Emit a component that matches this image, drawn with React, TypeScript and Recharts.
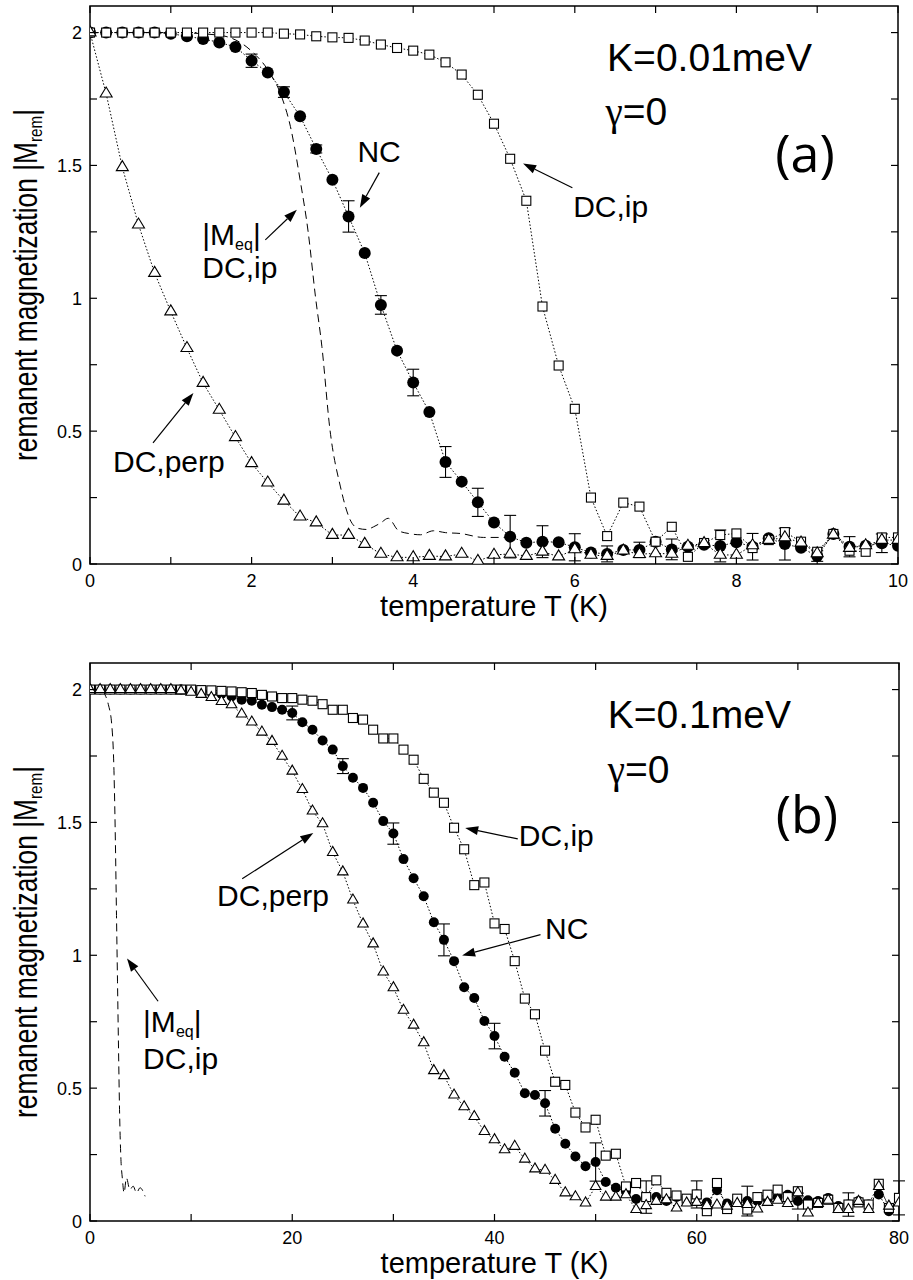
import React from 'react';
import {
  LineChart,
  Line,
  XAxis,
  YAxis,
  ErrorBar,
  ReferenceArea,
  ReferenceLine,
  ReferenceDot,
} from 'recharts';

const FONT = '"Liberation Sans", Arial, Helvetica, sans-serif';

// ---------- panel (a): K = 0.01 meV, gamma = 0 ----------
const tA = [0, 0.2, 0.4, 0.6, 0.8, 1, 1.2, 1.4, 1.6, 1.8, 2, 2.2, 2.4, 2.6, 2.8, 3, 3.2, 3.4, 3.6, 3.8, 4, 4.2, 4.4, 4.6, 4.8, 5, 5.2, 5.4, 5.6, 5.8, 6, 6.2, 6.4, 6.6, 6.8, 7, 7.2, 7.4, 7.6, 7.8, 8, 8.2, 8.4, 8.6, 8.8, 9, 9.2, 9.4, 9.6, 9.8, 10];
const ncA = [2.0, 2.0, 2.0, 2.0, 2.0, 1.996, 1.986, 1.976, 1.963, 1.946, 1.894, 1.85, 1.776, 1.685, 1.562, 1.446, 1.308, 1.17, 0.975, 0.803, 0.683, 0.572, 0.384, 0.31, 0.232, 0.156, 0.103, 0.08, 0.084, 0.082, 0.063, 0.043, 0.038, 0.053, 0.053, 0.084, 0.055, 0.065, 0.072, 0.068, 0.082, 0.065, 0.097, 0.075, 0.061, 0.03, 0.113, 0.065, 0.069, 0.078, 0.069];
const ipA = [2.0, 2.0, 2.0, 2.0, 2.0, 2.0, 2.0, 2.0, 2.0, 2.0, 2.0, 2.0, 1.996, 1.993, 1.986, 1.982, 1.98, 1.97, 1.955, 1.942, 1.932, 1.917, 1.888, 1.842, 1.766, 1.657, 1.525, 1.367, 0.969, 0.747, 0.584, 0.25, 0.105, 0.231, 0.216, 0.084, 0.14, 0.027, 0.079, 0.109, 0.115, 0.06, 0.09, 0.12, 0.084, 0.046, 0.113, 0.05, 0.046, 0.1, 0.1];
const perpA = [2.0, 1.77, 1.493, 1.277, 1.095, 0.95, 0.812, 0.681, 0.58, 0.477, 0.379, 0.306, 0.238, 0.178, 0.156, 0.109, 0.109, 0.075, 0.038, 0.025, 0.025, 0.03, 0.028, 0.038, 0.011, 0.034, 0.038, 0.03, 0.046, 0.028, 0.055, 0.034, 0.03, 0.05, 0.037, 0.04, 0.038, 0.068, 0.078, 0.034, 0.034, 0.07, 0.09, 0.1, 0.08, 0.04, 0.11, 0.06, 0.07, 0.09, 0.09];
const ncErrAtA = [2, 2.4, 2.8, 3.2, 3.6, 4, 4.4, 4.8, 5.2, 5.6, 6, 6.4, 6.8, 7.2, 7.8, 8.2, 8.6, 9, 9.4, 9.8];
const ncErrA = [0.025, 0.02, 0.015, 0.059, 0.035, 0.05, 0.058, 0.053, 0.08, 0.06, 0.051, 0.03, 0.029, 0.039, 0.06, 0.05, 0.06, 0.02, 0.038, 0.035];
// |M_eq| for DC,ip (dashed)
const eqTA = [0, 1, 1.6, 2, 2.2, 2.37, 2.48, 2.6, 2.7, 2.79, 2.87, 2.97, 3.1, 3.22, 3.32, 3.42, 3.51, 3.6, 3.69, 3.82, 3.94, 4.09, 4.25, 4.4, 4.58, 4.87, 5.2];
const eqMA = [2.0, 2.0, 1.99, 1.93, 1.86, 1.76, 1.647, 1.446, 1.25, 1.007, 0.818, 0.505, 0.29, 0.166, 0.134, 0.13, 0.14, 0.155, 0.172, 0.125, 0.115, 0.11, 0.125, 0.118, 0.115, 0.1, 0.1];

// ---------- panel (b): K = 0.1 meV, gamma = 0 ----------
const tB = [0, 1, 2, 3, 4, 5, 6, 7, 8, 9, 10, 11, 12, 13, 14, 15, 16, 17, 18, 19, 20, 21, 22, 23, 24, 25, 26, 27, 28, 29, 30, 31, 32, 33, 34, 35, 36, 37, 38, 39, 40, 41, 42, 43, 44, 45, 46, 47, 48, 49, 50, 51, 52, 53, 54, 55, 56, 57, 58, 59, 60, 61, 62, 63, 64, 65, 66, 67, 68, 69, 70, 71, 72, 73, 74, 75, 76, 77, 78, 79, 80];
const ncB = [2.0, 2.0, 2.0, 2.0, 2.0, 2.0, 2.0, 2.0, 2.0, 2.0, 1.998, 1.995, 1.99, 1.983, 1.974, 1.962, 1.958, 1.943, 1.934, 1.924, 1.912, 1.877, 1.849, 1.808, 1.774, 1.712, 1.668, 1.63, 1.574, 1.505, 1.458, 1.362, 1.29, 1.222, 1.124, 1.058, 0.978, 0.88, 0.839, 0.753, 0.696, 0.618, 0.558, 0.481, 0.474, 0.443, 0.347, 0.291, 0.243, 0.206, 0.222, 0.147, 0.125, 0.11, 0.083, 0.09, 0.09, 0.075, 0.09, 0.08, 0.1, 0.07, 0.116, 0.066, 0.08, 0.075, 0.075, 0.083, 0.09, 0.099, 0.075, 0.078, 0.075, 0.087, 0.056, 0.062, 0.075, 0.062, 0.1, 0.037, 0.087];
const ipB = [2.0, 2.0, 2.0, 2.0, 2.0, 2.0, 2.0, 2.0, 2.0, 2.0, 2.0, 1.998, 1.997, 1.995, 1.993, 1.99, 1.987, 1.98, 1.974, 1.968, 1.968, 1.962, 1.958, 1.945, 1.924, 1.924, 1.893, 1.887, 1.849, 1.816, 1.816, 1.774, 1.736, 1.664, 1.612, 1.574, 1.48, 1.399, 1.264, 1.274, 1.12, 1.099, 0.978, 0.837, 0.778, 0.641, 0.524, 0.512, 0.408, 0.352, 0.381, 0.246, 0.253, 0.13, 0.143, 0.09, 0.153, 0.106, 0.096, 0.084, 0.1, 0.037, 0.143, 0.045, 0.084, 0.043, 0.09, 0.099, 0.118, 0.09, 0.112, 0.062, 0.068, 0.08, 0.049, 0.062, 0.07, 0.062, 0.14, 0.049, 0.087];
const perpB = [2.0, 2.0, 2.0, 2.0, 2.0, 2.0, 2.0, 2.0, 2.0, 1.995, 1.99, 1.982, 1.97, 1.955, 1.943, 1.908, 1.878, 1.84, 1.805, 1.749, 1.693, 1.624, 1.543, 1.495, 1.387, 1.314, 1.208, 1.118, 1.043, 0.937, 0.878, 0.793, 0.737, 0.671, 0.566, 0.547, 0.474, 0.43, 0.393, 0.337, 0.306, 0.268, 0.281, 0.233, 0.196, 0.191, 0.153, 0.106, 0.091, 0.068, 0.13, 0.09, 0.09, 0.099, 0.043, 0.058, 0.074, 0.08, 0.049, 0.068, 0.07, 0.058, 0.06, 0.056, 0.066, 0.062, 0.045, 0.07, 0.078, 0.066, 0.106, 0.03, 0.066, 0.078, 0.043, 0.043, 0.074, 0.043, 0.13, 0.056, 0.068];
const ncErrAtB = [20, 25, 30, 35, 40, 45, 50, 55, 60, 65, 70, 75, 80];
const ncErrB = [0.026, 0.028, 0.04, 0.06, 0.048, 0.048, 0.072, 0.061, 0.051, 0.056, 0.03, 0.044, 0.064];
const eqTB = [0, 0.99, 1.49, 1.82, 2.15, 2.38, 2.51, 2.62, 2.72, 2.82, 2.92, 3.05, 3.2, 3.37, 3.6, 3.94, 4.27, 4.6, 4.95, 5.45];
const eqMB = [2.0, 2.0, 1.98, 1.943, 1.868, 1.68, 1.43, 1.15, 0.9, 0.65, 0.42, 0.24, 0.16, 0.106, 0.162, 0.118, 0.131, 0.106, 0.125, 0.093];

// ---------- ticks ----------
const xTicksA = [0, 1, 2, 3, 4, 5, 6, 7, 8, 9, 10];
const xLabelsA = [0, 2, 4, 6, 8, 10];
const xTicksB = [0, 10, 20, 30, 40, 50, 60, 70, 80];
const xLabelsB = [0, 20, 40, 60, 80];
const yTicks = [0, 0.25, 0.5, 0.75, 1, 1.25, 1.5, 1.75, 2];
const yLabels = [0, 0.5, 1, 1.5, 2];

const buildRows = (t: number[], nc: number[], ip: number[], perp: number[], errAt: number[], err: number[]) =>
  t.map((T, i) => {
    const k = errAt.findIndex((e) => Math.abs(e - T) < 1e-6);
    return { T, nc: nc[i], ncErr: k >= 0 ? err[k] : null, ip: ip[i], perp: perp[i] };
  });

const rowsA = buildRows(tA, ncA, ipA, perpA, ncErrAtA, ncErrA);
const rowsB = buildRows(tB, ncB, ipB, perpB, ncErrAtB, ncErrB);
const eqRowsA = eqTA.map((T, i) => ({ T, M: eqMA[i] }));
const eqRowsB = eqTB.map((T, i) => ({ T, M: eqMB[i] }));

// ---------- markers ----------
const circleDot = (r: number) => (p: any) =>
  p.cx == null || p.cy == null ? <g key={p.index} /> : <circle key={p.index} cx={p.cx} cy={p.cy} r={r} fill="#000" stroke="none" />;

const squareDot = (s: number) => (p: any) =>
  p.cx == null || p.cy == null ? (
    <g key={p.index} />
  ) : (
    <rect key={p.index} x={p.cx - s / 2} y={p.cy - s / 2} width={s} height={s} fill="#fff" stroke="#000" strokeWidth={1.1} />
  );

const triDot = (w: number, h: number) => (p: any) =>
  p.cx == null || p.cy == null ? (
    <g key={p.index} />
  ) : (
    <polygon
      key={p.index}
      points={`${p.cx},${p.cy - (h * 2) / 3} ${p.cx - w / 2},${p.cy + h / 3} ${p.cx + w / 2},${p.cy + h / 3}`}
      fill="#fff"
      stroke="#000"
      strokeWidth={1.1}
    />
  );

// ---------- axes (gnuplot style: inward ticks on all four sides) ----------
const makeXTick = (labels: number[], plotTop: number) => (p: any) => {
  const { x, y, payload } = p;
  const v = payload.value;
  return (
    <g>
      <line x1={x} x2={x} y1={y} y2={y - 7} stroke="#000" strokeWidth={1.2} />
      <line x1={x} x2={x} y1={plotTop} y2={plotTop + 7} stroke="#000" strokeWidth={1.2} />
      {labels.includes(v) && (
        <text x={x} y={y + 23} textAnchor="middle" fontSize={18} fontFamily={FONT} fill="#000">
          {v}
        </text>
      )}
    </g>
  );
};

const makeYTick = (labels: number[], plotRight: number) => (p: any) => {
  const { x, y, payload } = p;
  const v = payload.value;
  return (
    <g>
      <line x1={x} x2={x + 7} y1={y} y2={y} stroke="#000" strokeWidth={1.2} />
      <line x1={plotRight} x2={plotRight - 7} y1={y} y2={y} stroke="#000" strokeWidth={1.2} />
      {labels.includes(v) && (
        <text x={x - 8} y={y + 6.5} textAnchor="end" fontSize={18} fontFamily={FONT} fill="#000">
          {v}
        </text>
      )}
    </g>
  );
};

const XLabel = (p: any) => {
  const vb = p.viewBox || {};
  return (
    <text x={vb.x + vb.width / 2} y={vb.y + 52} textAnchor="middle" fontSize={29} fontFamily={FONT} fill="#000">
      temperature T (K)
    </text>
  );
};

const YLabel = (p: any) => {
  const vb = p.viewBox || {};
  const cx = 37;
  const cy = vb.y + vb.height / 2;
  return (
    <text
      x={cx}
      y={cy}
      transform={`rotate(-90 ${cx} ${cy})`}
      textAnchor="middle"
      fontSize={33}
      fontFamily={FONT}
      fill="#000"
      textLength={352}
      lengthAdjust="spacingAndGlyphs"
    >
      remanent magnetization |M
      <tspan fontSize={19} dy={5}>
        rem
      </tspan>
      <tspan dy={-5}>|</tspan>
    </text>
  );
};

// ---------- annotations ----------
const Arrow = (p: any) => {
  const { x1, y1, x2, y2 } = p;
  const ang = Math.atan2(y2 - y1, x2 - x1);
  const L = 13;
  const W = 4.5;
  const bx = x2 - L * Math.cos(ang);
  const by = y2 - L * Math.sin(ang);
  const pts = `${x2},${y2} ${bx - W * Math.sin(ang)},${by + W * Math.cos(ang)} ${bx + W * Math.sin(ang)},${by - W * Math.cos(ang)}`;
  return (
    <g>
      <line x1={x1} y1={y1} x2={bx} y2={by} stroke="#000" strokeWidth={1.2} />
      <polygon points={pts} fill="#000" />
    </g>
  );
};

const arrow = (key: string, from: [number, number], to: [number, number]) => (
  <ReferenceLine
    key={key}
    segment={[
      { x: from[0], y: from[1] },
      { x: to[0], y: to[1] },
    ]}
    shape={Arrow}
  />
);

const note = (key: string, x: number, y: number, body: (cx: number, cy: number) => React.ReactElement) => (
  <ReferenceDot key={key} x={x} y={y} r={1} shape={(p: any) => body(p.cx, p.cy)} />
);

const plain = (txt: string, size = 30, family = FONT) => (cx: number, cy: number) => (
  <text x={cx} y={cy} fontSize={size} fontFamily={family} fill="#000">
    {txt}
  </text>
);

const meq = (cx: number, cy: number) => (
  <text x={cx} y={cy} fontSize={30} fontFamily={FONT} fill="#000">
    |M
    <tspan fontSize={16} dy={5}>
      eq
    </tspan>
    <tspan dy={-5}>|</tspan>
  </text>
);

const gamma = (cx: number, cy: number) => (
  <text x={cx} y={cy} fontSize={39} fontFamily={FONT} fill="#000">
    <tspan fontFamily='"Liberation Serif", "DejaVu Serif", serif'>γ</tspan>=0
  </text>
);

const annotationsA = [
  note('k', 6.4, 1.857, plain('K=0.01meV', 39)),
  note('g', 6.38, 1.653, gamma),
  note('p', 8.48, 1.476, plain('(a)', 52, '"Open Sans", "DejaVu Sans", sans-serif')),
  note('ip', 5.98, 1.307, plain('DC,ip')),
  arrow('aip', [5.97, 1.416], [5.36, 1.507]),
  note('nc', 3.31, 1.514, plain('NC')),
  arrow('anc', [3.58, 1.473], [3.34, 1.341]),
  note('eq', 1.39, 1.202, meq),
  note('eq2', 1.39, 1.075, plain('DC,ip')),
  arrow('aeq', [2.17, 1.22], [2.56, 1.333]),
  note('pp', 0.285, 0.347, plain('DC,perp')),
  arrow('app', [0.78, 0.456], [1.28, 0.644]),
];

const annotationsB = [
  note('k', 51.2, 1.854, plain('K=0.1meV', 39)),
  note('g', 51.2, 1.648, gamma),
  note('p', 67.8, 1.46, plain('(b)', 52, '"Open Sans", "DejaVu Sans", sans-serif')),
  note('ip', 42.4, 1.412, plain('DC,ip')),
  arrow('aip', [42.3, 1.438], [37.1, 1.479]),
  note('nc', 45.0, 1.063, plain('NC')),
  arrow('anc', [44.55, 1.078], [36.8, 0.999]),
  note('pp', 12.57, 1.187, plain('DC,perp')),
  arrow('app', [15.05, 1.288], [22.08, 1.46]),
  note('eq', 5.25, 0.712, meq),
  note('eq2', 5.25, 0.573, plain('DC,ip')),
  arrow('aeq', [6.73, 0.827], [3.66, 0.988]),
];

type PanelProps = {
  top: number;
  height: number;
  marginTop: number;
  marginRight: number;
  xAxisH: number;
  rows: any[];
  eqRows: any[];
  xMax: number;
  xTicks: number[];
  xLabels: number[];
  circleR: number;
  triW: number;
  triH: number;
  notes: React.ReactElement[];
};

const Panel = (p: PanelProps) => {
  const plotTop = p.marginTop;
  const plotRight = 913 - p.marginRight;
  return (
    <div style={{ position: 'absolute', left: 0, top: p.top, width: 913, height: p.height }}>
      <LineChart width={913} height={p.height} data={p.rows} margin={{ top: p.marginTop, right: p.marginRight, bottom: 0, left: 0 }}>
        <XAxis
          type="number"
          dataKey="T"
          domain={[0, p.xMax]}
          ticks={p.xTicks}
          interval={0}
          allowDataOverflow
          axisLine={false}
          tickLine={false}
          tickSize={0}
          tickMargin={0}
          height={p.xAxisH}
          tick={makeXTick(p.xLabels, plotTop)}
          label={{ content: XLabel }}
        />
        <YAxis
          type="number"
          domain={[0, 2.1]}
          ticks={yTicks}
          interval={0}
          allowDataOverflow
          axisLine={false}
          tickLine={false}
          tickSize={0}
          tickMargin={0}
          width={90}
          tick={makeYTick(yLabels, plotRight)}
          label={{ content: YLabel }}
        />
        <ReferenceArea x1={0} x2={p.xMax} y1={0} y2={2.1} fill="none" stroke="#000" strokeWidth={1.5} />
        <Line
          data={p.eqRows}
          dataKey="M"
          type="monotone"
          stroke="#000"
          strokeWidth={1}
          strokeDasharray="8 5"
          dot={false}
          activeDot={false}
          isAnimationActive={false}
        />
        <Line
          dataKey="nc"
          type="linear"
          stroke="#000"
          strokeWidth={1}
          strokeDasharray="1.5 2"
          dot={circleDot(p.circleR)}
          activeDot={false}
          isAnimationActive={false}
        >
          <ErrorBar dataKey="ncErr" width={6} stroke="#000" strokeWidth={1.1} direction="y" isAnimationActive={false} />
        </Line>
        <Line
          dataKey="ip"
          type="linear"
          stroke="#000"
          strokeWidth={1}
          strokeDasharray="1.5 2"
          dot={squareDot(9)}
          activeDot={false}
          isAnimationActive={false}
        />
        <Line
          dataKey="perp"
          type="linear"
          stroke="#000"
          strokeWidth={1}
          strokeDasharray="1.5 2"
          dot={triDot(p.triW, p.triH)}
          activeDot={false}
          isAnimationActive={false}
        />
        {p.notes}
      </LineChart>
    </div>
  );
};

export default function App() {
  return (
    <div style={{ position: 'absolute', left: 0, top: 0, width: 913, height: 1280, background: '#fff' }}>
      <Panel
        top={0}
        height={640}
        marginTop={6}
        marginRight={15}
        xAxisH={76}
        rows={rowsA}
        eqRows={eqRowsA}
        xMax={10}
        xTicks={xTicksA}
        xLabels={xLabelsA}
        circleR={6}
        triW={12}
        triH={10}
        notes={annotationsA}
      />
      <Panel
        top={640}
        height={640}
        marginTop={23}
        marginRight={14}
        xAxisH={59}
        rows={rowsB}
        eqRows={eqRowsB}
        xMax={80}
        xTicks={xTicksB}
        xLabels={xLabelsB}
        circleR={5}
        triW={10.5}
        triH={9}
        notes={annotationsB}
      />
    </div>
  );
}
